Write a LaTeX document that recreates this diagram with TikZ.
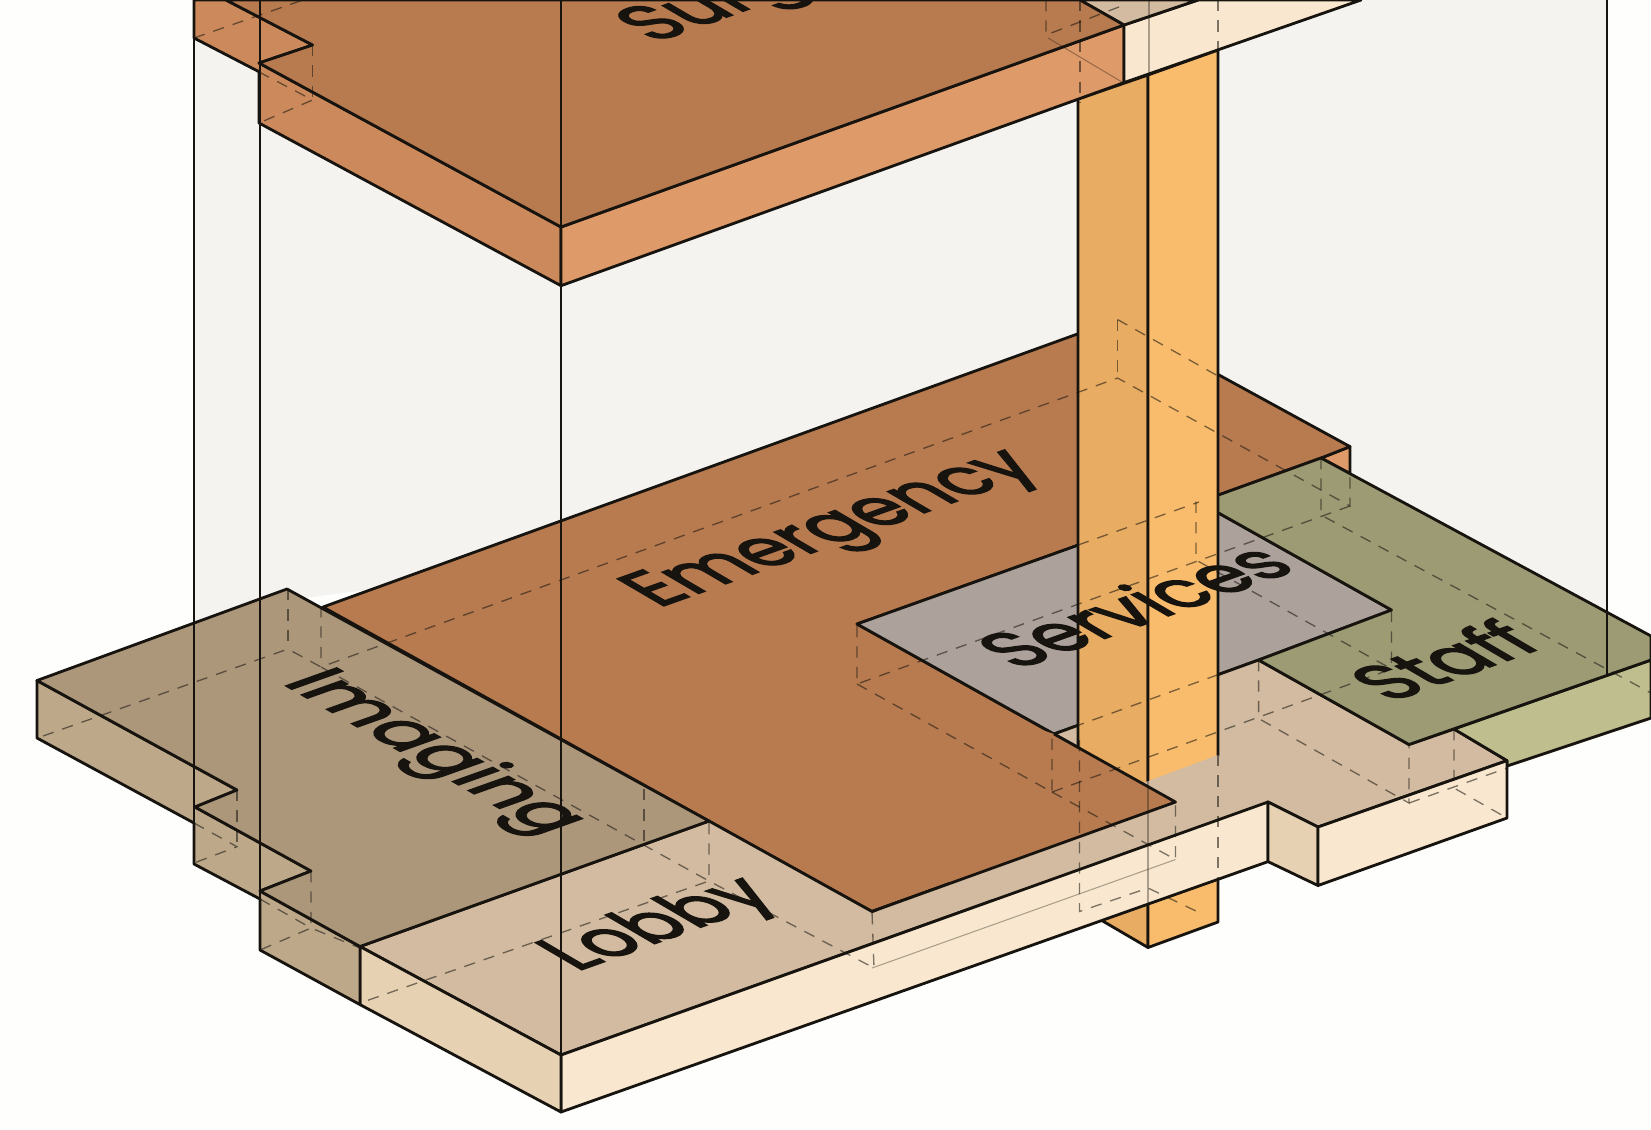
\documentclass[tikz,border=0pt]{standalone}
\usepackage{fontspec}
\setmainfont{Poppins}
\newfontfamily\roomfont{Poppins}[FakeBold=2.6]
\definecolor{paper}{HTML}{FEFEFC}
\definecolor{volume}{HTML}{F5F3F0}
\definecolor{emergtop}{HTML}{B87B50}
\definecolor{surgleft}{HTML}{CC8A5C}
\definecolor{surgright}{HTML}{DE9A68}
\definecolor{coreleft}{HTML}{E8AC62}
\definecolor{coreright}{HTML}{F9BC6C}
\definecolor{servtop}{HTML}{ACA19B}
\definecolor{stafftop}{HTML}{9C9B74}
\definecolor{staffside}{HTML}{BFBE8F}
\definecolor{lobbytop}{HTML}{D2BBA0}
\definecolor{lobbyleft}{HTML}{E6D1B2}
\definecolor{lobbyright}{HTML}{F9E8CF}
\definecolor{imagtop}{HTML}{AC977B}
\definecolor{imagside}{HTML}{BDA98A}
\definecolor{inkline}{HTML}{17140F}
\tikzset{
  edge/.style={draw=inkline,line width=0.8pt,line join=round},
  fineedge/.style={draw=inkline,line width=0.5pt},
  hidden/.style={draw=inkline,opacity=0.55,line width=0.38pt,dash pattern=on 3.2pt off 2.6pt},
  faint/.style={draw=inkline,opacity=0.35,line width=0.3pt},
  roomname/.style={inner sep=0pt,text=inkline,font=\fontsize{23}{23}\selectfont\roomfont},
  alongx/.style={roomname,cm={0.84,0.30,-0.82,0.48,(0,0)}},
  alongy/.style={roomname,cm={0.785,-0.45,0.9,0.32,(0,0)}}
}
\begin{document}
\begin{tikzpicture}[x=0.01cm,y=-0.01cm]
\useasboundingbox (0,0) rectangle (1651,1129);
\fill[paper] (0,0) rectangle (1651,1129);
\fill[volume] (194,0) -- (1607,0) -- (1607,690) -- (1321,470) -- (287,600) -- (194,630) -- cycle;
\path[edge,fill=surgright] (1350,446.6) -- (1350,473.5) -- (1321,458) -- cycle;
\path[edge,fill=emergtop] (323,607) -- (1117.5,319.5) -- (1350,446.6) -- (1321,458) -- (1199,502) -- (857,624) -- (1175.5,802) -- (872,911.5) -- cycle;
\path[edge,fill=servtop] (857,624) -- (1199,502) -- (1391.5,610) -- (1258.6,660) -- (1054,734) -- cycle;
\path[edge,fill=lobbytop] (360,946.5) -- (561,1055) -- (1268,802) -- (1318,827) -- (1507,760.6) -- (1454,729) -- (1409,744.5) -- (1258.6,660) -- (1054,734) -- (1175.5,802) -- (872,911.5) -- (709,821) -- cycle;
\path[edge,fill=staffside] (1454,729) -- (1651,660) -- (1651,718) -- (1507,766) -- (1507,760.6) -- cycle;
\path[edge,fill=stafftop] (1321,458) -- (1651,636) -- (1651,660) -- (1409,744.5) -- (1258.6,660) -- (1391.5,610) -- (1199,502) -- cycle;
\path[edge,fill=coreleft] (1078,99) -- (1148,75) -- (1148,947.5) -- (1101,920) -- (1078,907) -- cycle;
\path[edge,fill=coreright] (1148,75) -- (1218,50) -- (1218,922) -- (1148,947.5) -- cycle;
\fill[lobbytop] (1143,783) -- (1218,755) -- (1268,802) -- (1000,898) -- (872,911.5) -- (1175.5,802) -- cycle;
\path[edge,fill=lobbyright] (561,1055) -- (1268,802) -- (1268,861.6) -- (561,1112) -- cycle;
\path[edge,fill=lobbyleft] (360,946.5) -- (561,1055) -- (561,1112) -- (360,1004.6) -- cycle;
\path[edge,fill=lobbyleft] (1268,802) -- (1318,827) -- (1318,885.5) -- (1268,861.6) -- cycle;
\path[edge,fill=lobbyright] (1318,827) -- (1507,760.6) -- (1507,818) -- (1318,885.5) -- cycle;
\fill[emergtop] (1054,734) -- (1175.5,802) -- (950,883) -- (950,700) -- cycle;
\draw[edge] (1054,734) -- (1175.5,802) -- (872,911.5);
\path[edge,fill=imagside] (37,680.5) -- (237,790) -- (195,807) -- (311,871) -- (260,891) -- (360,946.5) -- (360,1004.6) -- (260,950) -- (260,899) -- (194,864) -- (194,823) -- (37,738) -- cycle;
\path[edge,fill=imagtop] (37,680.5) -- (287,589) -- (709,821) -- (360,946.5) -- (260,891) -- (311,871) -- (195,807) -- (237,790) -- cycle;
\path[edge,fill=surgleft] (194,0) -- (226,0) -- (312.6,45) -- (259,63) -- (561,227) -- (561,285.7) -- (259,123) -- (259,71.7) -- (194,38) -- cycle;
\path[edge,fill=surgright] (561,227) -- (1124,25) -- (1124,82.6) -- (561,285.7) -- cycle;
\path[edge,fill=lobbyright] (1124,25) -- (1198,0) -- (1361,0) -- (1124,82.6) -- cycle;
\path[edge,fill=lobbytop] (1080,0) -- (1124,25) -- (1198,0) -- cycle;
\path[edge,fill=emergtop] (226,0) -- (312.6,45) -- (259,63) -- (561,227) -- (1124,25) -- (1080,0) -- cycle;
\draw[edge] (194,0) -- (194,864);
\draw[edge] (260,0) -- (260,950);
\draw[edge] (561,0) -- (561,285.7);
\draw[fineedge] (561,285.7) -- (561,1112);
\draw[edge] (1607,0) -- (1607,676);
\draw[faint] (1148,779) -- (1148,947.5);
\draw[faint] (1149,0) -- (1149,75);
\draw[faint] (872,968) -- (1175.5,859.5);
\draw[faint] (1048,38) -- (1122,82);
\draw[hidden] (43,736) -- (288,649) -- (321,667) -- (1117.5,378) -- (1350,506) -- (1350,446.6);
\draw[hidden] (288,589) -- (288,649);
\draw[hidden] (321,606) -- (321,667) -- (709,881) -- (874,968) -- (872,911.5);
\draw[hidden] (644,789) -- (644,843);
\draw[hidden] (709,823) -- (709,881) -- (360,1003);
\draw[hidden] (1117.5,319.5) -- (1117.5,378);
\draw[hidden] (1117.5,319.5) -- (1218,376);
\draw[hidden] (857,626) -- (857,684) -- (1350,506);
\draw[hidden] (857,684) -- (1052,792) -- (1052,734);
\draw[hidden] (1052,792) -- (1391.5,669) -- (1391.5,610);
\draw[hidden] (1052,792) -- (1175.5,859.5) -- (1175.5,802);
\draw[hidden] (1196,501.7) -- (1196,560) -- (1391.5,669);
\draw[hidden] (1078,545) -- (1199,502);
\draw[hidden] (1054,734) -- (1258.6,660);
\draw[hidden] (1258.6,660) -- (1258.6,718.5) -- (1409,803) -- (1409,744.5);
\draw[hidden] (1321,458) -- (1321,515) -- (1651,693);
\draw[hidden] (1454,729) -- (1454,788) -- (1507,818);
\draw[hidden] (1409,803) -- (1507,768);
\draw[hidden] (194,823) -- (237,846.7) -- (194,863);
\draw[hidden] (237,790) -- (237,846.7);
\draw[hidden] (260,899) -- (311,928) -- (260,950);
\draw[hidden] (311,871) -- (311,928) -- (360,948);
\draw[hidden] (194,38) -- (303,0);
\draw[hidden] (259,72) -- (312.6,100) -- (259,123);
\draw[hidden] (312.6,45) -- (312.6,103);
\draw[hidden] (1046,0) -- (1046,35) -- (1124,5);
\draw[hidden] (1080,0) -- (1080,103);
\draw[hidden] (1218,0) -- (1218,50);
\draw[hidden] (1079.5,740) -- (1079.5,911.5) -- (1148,888) -- (1201.6,913.7);
\draw[hidden] (1218,755) -- (1218,922);
\node[alongx] (surgery) at (770,-12) {Surgery};
\node[alongx] (emergency) at (836,531) {Emergency};
\node[alongx] (services) at (1133,605) {Services};
\node[alongx] (staff) at (1443,660) {Staff};
\node[alongx] (lobby) at (662,926) {Lobby};
\node[alongy] (imaging) at (432,753) {Imaging};
\end{tikzpicture}
\end{document}
